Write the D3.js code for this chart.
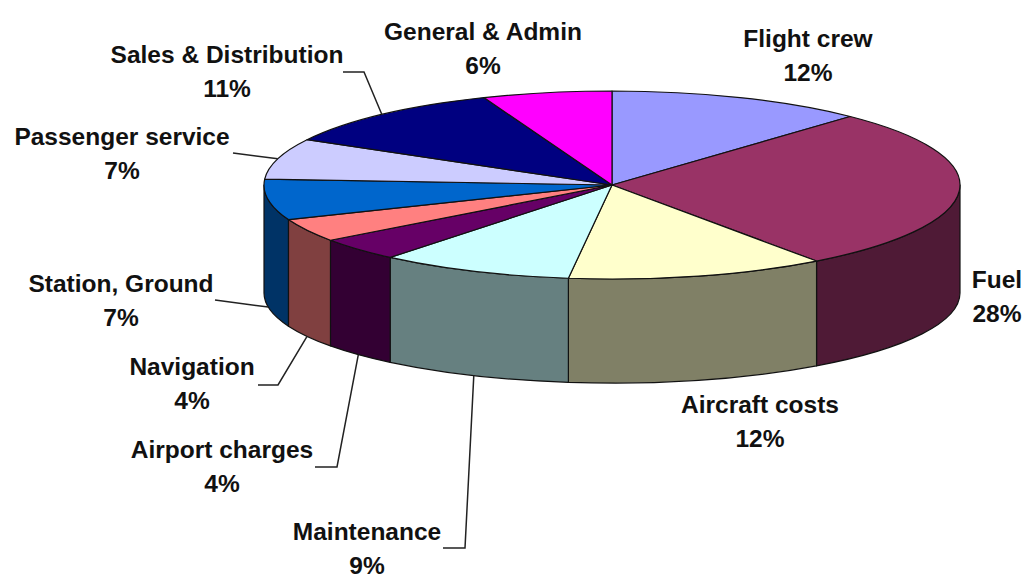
<!DOCTYPE html>
<html>
<head>
<meta charset="utf-8">
<script src="https://cdn.jsdelivr.net/npm/d3@7"></script>
<style>
  body { margin: 0; background: #fff; }
  .label { font-family: Arial, "Liberation Sans", sans-serif; font-weight: bold; font-size: 24.5px; fill: #111; }
</style>
</head>
<body>
<script>
// Chart data
const categories = ["Flight crew", "Fuel", "Aircraft costs", "Maintenance", "Airport charges",
  "Navigation", "Station, Ground", "Passenger service", "Sales & Distribution", "General & Admin"];
const values = [12, 28, 12, 9, 4, 4, 7, 7, 11, 6];
const topColors = ["#9999ff", "#993366", "#ffffcc", "#ccffff", "#660066",
  "#ff8080", "#0066cc", "#ccccff", "#000080", "#ff00ff"];
const sideColors = ["#4d4d80", "#4f1a36", "#808066", "#668080", "#330033",
  "#804040", "#003366", "#666680", "#000040", "#800080"];

// Layout of the labels (centre x, baseline of first line) and leader elbows
const labelPos = [
  [808, 47], [997, 288], [760, 413], [367, 540], [222, 458],
  [192, 375], [121, 292], [122, 145], [227, 63], [483, 40]
];
const leaders = [null, null, null,
  { pts: [[443, 548], [465, 548]], on: "bottom" },
  { pts: [[315, 467], [337, 467]], on: "bottom" },
  { pts: [[258, 385], [278, 385]], on: "bottom" },
  { pts: [[215, 300]], on: "bottom" },
  { pts: [[233, 153]], on: "top" },
  { pts: [[343, 72], [364, 72]], on: "top" },
  null];

let svgWidth = 1026;
let svgHeight = 574;

// pie geometry: top face and bottom face ellipses
const cx = 612, rx = 348;
const topE = { cy: 185, ry: 94 };
const botE = { cy: 293, ry: 90 };

let svg = d3.select("body")
  .append("svg")
  .attr("width", svgWidth)
  .attr("height", svgHeight);

const pie = d3.pie().sort(null).startAngle(0).endAngle(2 * Math.PI);
const slices = pie(values).map((d, i) => Object.assign(d, { i: i }));

const topColor = d3.scaleOrdinal().domain(categories).range(topColors);
const sideColor = d3.scaleOrdinal().domain(categories).range(sideColors);

function pt(a, e) {
  return [cx + rx * Math.sin(a), e.cy - e.ry * Math.cos(a)];
}

function topPath(d) {
  const p0 = pt(d.startAngle, topE), p1 = pt(d.endAngle, topE);
  const large = (d.endAngle - d.startAngle) > Math.PI ? 1 : 0;
  return `M${cx},${topE.cy}L${p0}A${rx},${topE.ry} 0 ${large} 1 ${p1}Z`;
}

function sidePath(d) {
  const s = Math.max(d.startAngle, Math.PI / 2);
  const e = Math.min(d.endAngle, 3 * Math.PI / 2);
  const t0 = pt(s, topE), t1 = pt(e, topE), b0 = pt(s, botE), b1 = pt(e, botE);
  return `M${t0}A${rx},${topE.ry} 0 0 1 ${t1}L${b1}A${rx},${botE.ry} 0 0 0 ${b0}Z`;
}

// side walls (front half only)
svg.append("g")
  .selectAll("path")
  .data(slices.filter(d => d.endAngle > Math.PI / 2 && d.startAngle < 3 * Math.PI / 2))
  .enter().append("path")
  .attr("d", sidePath)
  .attr("fill", d => sideColor(categories[d.i]))
  .attr("stroke", "#111")
  .attr("stroke-width", 1.2)
  .attr("stroke-linejoin", "round");

// top faces
svg.append("g")
  .selectAll("path")
  .data(slices)
  .enter().append("path")
  .attr("d", topPath)
  .attr("fill", d => topColor(categories[d.i]))
  .attr("stroke", "#111")
  .attr("stroke-width", 1.2)
  .attr("stroke-linejoin", "round");

// leader lines
svg.append("g")
  .selectAll("polyline")
  .data(slices.filter(d => leaders[d.i]))
  .enter().append("polyline")
  .attr("points", d => {
    const l = leaders[d.i];
    const mid = (d.startAngle + d.endAngle) / 2;
    const end = pt(mid, l.on === "top" ? topE : botE);
    return l.pts.concat([end]).map(p => p.join(",")).join(" ");
  })
  .attr("fill", "none")
  .attr("stroke", "#222")
  .attr("stroke-width", 1.5);

// labels
let labels = svg.append("g")
  .selectAll("text")
  .data(slices)
  .enter().append("text")
  .attr("class", "label")
  .attr("text-anchor", "middle");

labels.append("tspan")
  .attr("x", d => labelPos[d.i][0])
  .attr("y", d => labelPos[d.i][1])
  .text(d => categories[d.i]);

labels.append("tspan")
  .attr("x", d => labelPos[d.i][0])
  .attr("y", d => labelPos[d.i][1] + 34)
  .text(d => values[d.i] + "%");
</script>
</body>
</html>
